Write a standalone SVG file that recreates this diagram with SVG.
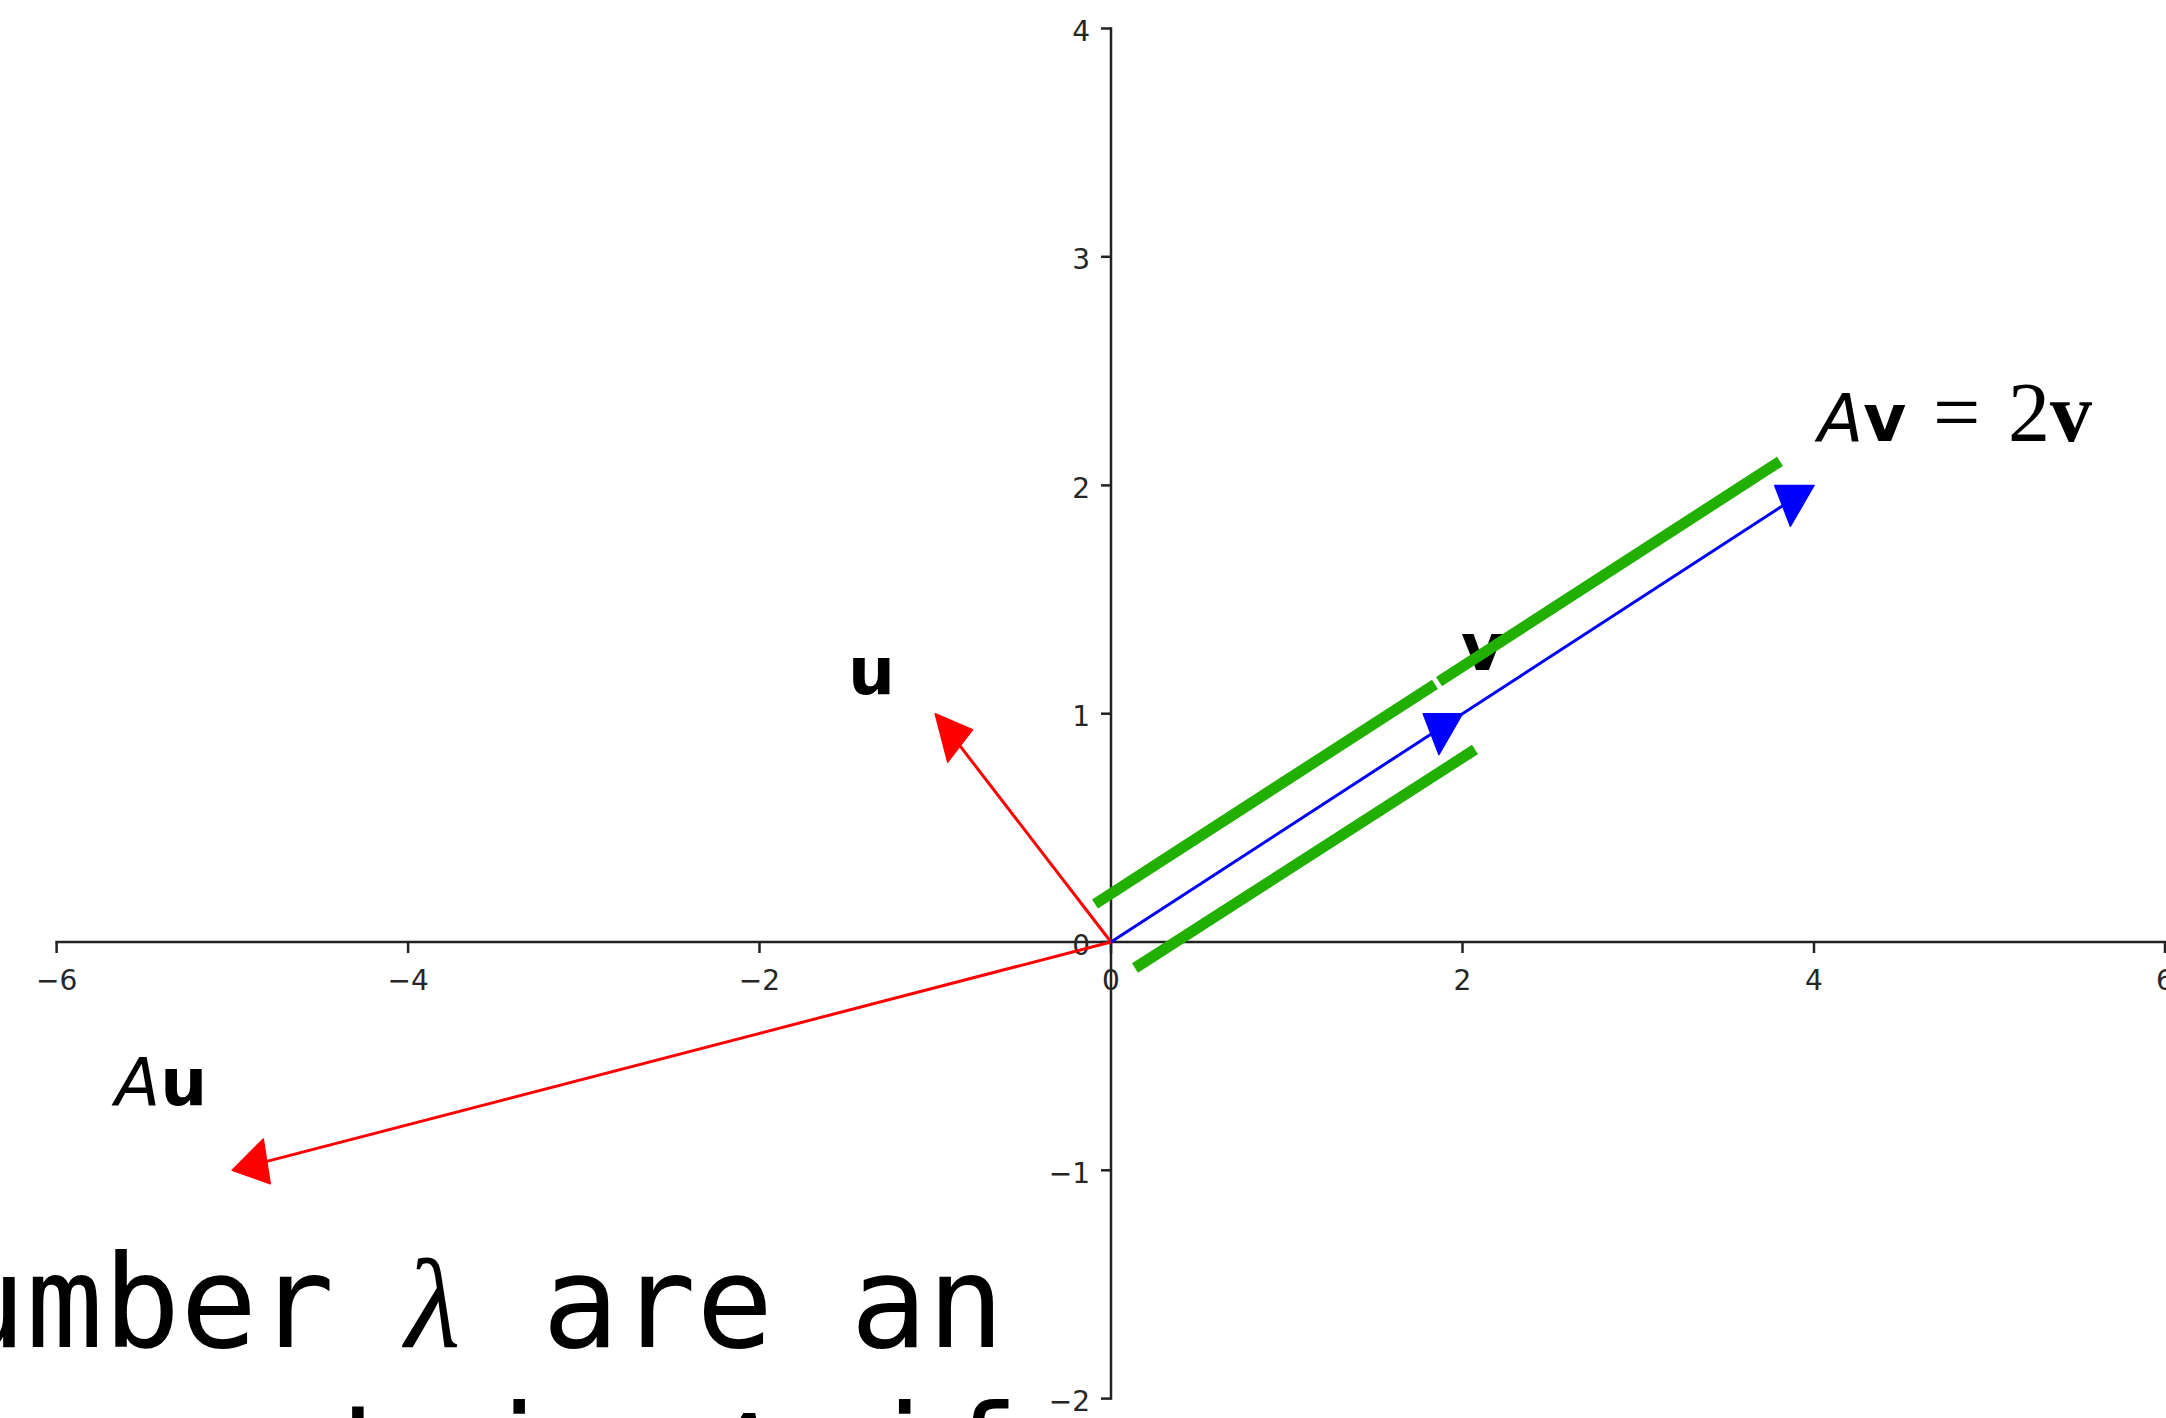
<svg xmlns="http://www.w3.org/2000/svg" width="2166" height="1418" viewBox="0 0 2166 1418">
<style>
.ax{stroke:#222;stroke-width:2.5;fill:none;stroke-linecap:square}
.tk{stroke:#222;stroke-width:2.5}
.tl{font-family:"DejaVu Sans",sans-serif;font-size:28px;fill:#262626}
.yl{text-anchor:end}
.xl{text-anchor:middle}
.lab{font-family:"DejaVu Sans",sans-serif;font-size:66px;fill:#000}
.bold{font-weight:bold}
.it{font-style:oblique}
.serif{font-family:"Liberation Serif","DejaVu Serif",serif;font-size:84px}
.red{stroke:#ff0000;stroke-width:3;fill:none}
.blue{stroke:#0000ff;stroke-width:3;fill:none}
.rh{fill:#ff0000;stroke:#ff0000;stroke-width:1.5;stroke-linejoin:round}
.bh{fill:#0000ff;stroke:#0000ff;stroke-width:1.5;stroke-linejoin:round}
.green{stroke:#22b000;stroke-width:11;fill:none;stroke-linecap:butt}
.mono{font-family:"DejaVu Sans Mono",monospace;font-size:128px;fill:#000}
.math{font-family:"Liberation Serif","DejaVu Serif",serif;font-style:italic;font-size:128px;fill:#000}
</style>
<rect width="2166" height="1418" fill="#fff"/>
<g id="axes">
<line class="ax" x1="56.6" y1="942" x2="2165.6" y2="942"/>
<line class="ax" x1="1111" y1="28.5" x2="1111" y2="1398.6"/>
<g id="xticks">
<line class="tk" x1="56.6" y1="942" x2="56.6" y2="953"/>
<line class="tk" x1="408.1" y1="942" x2="408.1" y2="953"/>
<line class="tk" x1="759.5" y1="942" x2="759.5" y2="953"/>
<line class="tk" x1="1111" y1="942" x2="1111" y2="953"/>
<line class="tk" x1="1462.5" y1="942" x2="1462.5" y2="953"/>
<line class="tk" x1="1814" y1="942" x2="1814" y2="953"/>
<line class="tk" x1="2165" y1="942" x2="2165" y2="953"/>
</g>
<g id="yticks">
<line class="tk" x1="1101" y1="28.5" x2="1111" y2="28.5"/>
<line class="tk" x1="1101" y1="256.8" x2="1111" y2="256.8"/>
<line class="tk" x1="1101" y1="485.4" x2="1111" y2="485.4"/>
<line class="tk" x1="1101" y1="713.7" x2="1111" y2="713.7"/>
<line class="tk" x1="1101" y1="942" x2="1111" y2="942"/>
<line class="tk" x1="1101" y1="1170.3" x2="1111" y2="1170.3"/>
<line class="tk" x1="1101" y1="1398.6" x2="1111" y2="1398.6"/>
</g>
<g id="xlabels" class="tl xl">
<text x="56.6" y="990">−6</text>
<text x="408.1" y="990">−4</text>
<text x="759.5" y="990">−2</text>
<text x="1111" y="990">0</text>
<text x="1462.5" y="990">2</text>
<text x="1814" y="990">4</text>
<text x="2165" y="990">6</text>
</g>
<g id="ylabels" class="tl yl">
<text x="1090" y="41">4</text>
<text x="1090" y="269.3">3</text>
<text x="1090" y="497.9">2</text>
<text x="1090" y="726.2">1</text>
<text x="1090" y="954.5">0</text>
<text x="1090" y="1182.8">−1</text>
<text x="1090" y="1411.1">−2</text>
</g>
</g>
<g id="labels">
<text id="label-u" class="lab bold" x="848" y="694">u</text>
<text id="label-v" class="lab bold" x="1461" y="670">v</text>
<text id="label-Au" class="lab" x="115" y="1105"><tspan class="it">A</tspan><tspan class="bold">u</tspan></text>
<text id="label-Av" class="lab" x="1818" y="441"><tspan class="it">A</tspan><tspan class="bold">v</tspan><tspan class="serif" x="1933">=</tspan><tspan class="serif" x="2008">2</tspan><tspan class="serif bold">v</tspan></text>
</g>
<g id="connectors">
<g id="vec-u">
<line class="red" x1="1111" y1="942" x2="960" y2="745.9"/>
<polygon class="rh" points="935.2,713.7 972.5,729.8 947.7,762.1"/>
</g>
<g id="vec-Au">
<line class="red" x1="1111" y1="942" x2="266.8" y2="1161.4"/>
<polygon class="rh" points="232.2,1170.3 263.3,1139 270.2,1183.7"/>
</g>
<g id="vec-v">
<line class="blue" x1="1111" y1="942" x2="1782.6" y2="505.8"/>
<polygon class="bh" points="1462.5,713.7 1423.2,713.7 1438.9,754.5"/>
</g>
<g id="vec-Av">
<polygon class="bh" points="1814,485.4 1774.7,485.4 1790.4,526.2"/>
</g>
<g id="parallel-marks">
<line class="green" x1="1095" y1="904" x2="1435" y2="684.3"/>
<line class="green" x1="1439" y1="681.7" x2="1780" y2="461.3"/>
<line class="green" x1="1135" y1="968" x2="1475" y2="749.5"/>
</g>
</g>
<g id="caption">
<text class="mono" x="-51" y="1347">umber</text>
<text class="math" x="405" y="1347">λ</text>
<text class="mono" x="542" y="1347">are an</text>
<text class="mono" x="17" y="1497">a matrix</text>
<text class="math" x="700" y="1497">A</text>
<text class="mono" x="865" y="1497">if</text>
</g>
</svg>
